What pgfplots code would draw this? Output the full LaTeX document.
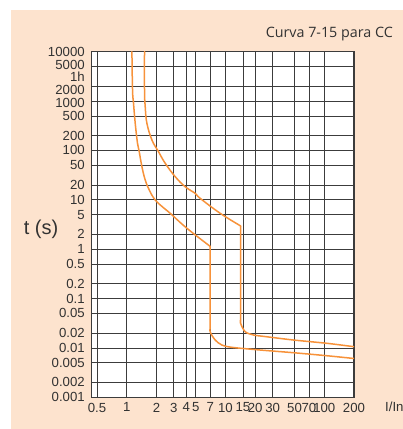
\documentclass[border=0pt]{standalone}
\usepackage{fontspec}
\setmainfont{Liberation Sans}
\newfontfamily\titlefont{Open Sans}
\usepackage{pgfplots}
\pgfplotsset{compat=1.18}
\definecolor{peach}{RGB}{253,227,206}
\definecolor{curvec}{RGB}{247,146,58}
\definecolor{gridc}{RGB}{60,60,60}
\definecolor{txt}{RGB}{50,50,50}
\newcommand{\lbl}[2]{\raisebox{#1}[9.3pt][0pt]{#2}}
\begin{document}
\begin{tikzpicture}
\fill[white] (0,0) rectangle (403pt,429pt);
\fill[peach] (11pt,0) rectangle (403pt,419pt);
\begin{axis}[
  at={(91.7pt,31.7pt)}, anchor=south west,
  scale only axis, width=262.3pt, height=345.6pt,
  xmode=log, ymode=log,
  xmin=0.442, xmax=200, ymin=0.001, ymax=10000,
  axis background/.style={fill=white},
  xtick={0.5,1,2,3,4,5,7,10,15,20,30,50,70,100,200},
  xticklabels={0.5,1,2,3,4,5,7,10,15,20,30,50,70,100,200},
  ytick={0.001,0.002,0.005,0.01,0.02,0.05,0.1,0.2,0.5,1,2,5,10,20,50,100,200,500,1000,2000,5000,10000},
  yticklabels={0.001,0.002,0.005,0.01,0.02,0.05,0.1,0.2,0.5,1,2,5,10,20,50,100,200,500,\lbl{-2pt}{1000},\lbl{-3.5pt}{2000},\lbl{2pt}{5000},10000},
  extra y ticks={3600}, extra y tick labels={\lbl{-3.6pt}{1h}}, extra y tick style={grid=none},
  minor tick num=0,
  grid=major,
  major grid style={draw=gridc, line width=0.75pt},
  axis line style={draw=gridc, line width=1.1pt},
  major tick length=0pt, minor tick length=0pt,
  tick label style={font=\fontsize{13.2}{13.2}\selectfont, text=txt},
  yticklabel style={inner sep=0.8pt, xshift=-6pt},
  xticklabel style={yshift=-2pt},
  /pgf/number format/assume math mode=true,
]
\addplot[curvec, line width=1.5pt, smooth, tension=0.65, line cap=round] coordinates {(1.129,10000)(1.145,1676)(1.172,901)(1.219,355)(1.286,139.5)(1.338,94.3)(1.425,46.9)(1.539,25.2)(1.709,15.1)(1.943,9.9)(2.342,6.98)(2.756,5.33)(4.068,2.65)(7,1.14)};
\addplot[curvec, line width=1.5pt, smooth, tension=0.5, line cap=round] coordinates {(7,1.14)(7,0.0335)(7,0.0213)(7.87,0.01446)(9.19,0.01146)(11.61,0.01028)(22.45,0.00907)(48.8,0.0080)(106.2,0.00695)(200,0.00611)};
\addplot[curvec, line width=1.5pt, smooth, tension=0.65, line cap=round] coordinates {(1.514,10000)(1.514,1676)(1.539,769)(1.601,355)(1.799,163)(2.098,94.3)(2.453,54.9)(3.097,29.4)(3.909,18.4)(4.935,13.5)(5.546,10.7)(8.84,5.33)(14.25,2.95)};
\addplot[curvec, line width=1.5pt, smooth, tension=0.5, line cap=round] coordinates {(14.25,2.95)(14.25,0.0464)(14.25,0.0315)(15.83,0.0213)(19.2,0.01828)(25.2,0.0170)(48.8,0.01446)(106.2,0.01241)(200,0.01059)};
\end{axis}
\node[anchor=east, font=\titlefont\fontsize{14.3}{14.3}\selectfont, text=txt, inner sep=0pt] at (393pt,395pt) {Curva 7-15 para CC};
\node[font=\fontsize{20}{20}\selectfont, text=txt, inner sep=0pt] at (41pt,200pt) {t (s)};
\node[anchor=west, font=\fontsize{13.2}{13.2}\selectfont, text=txt, inner sep=0pt] at (385pt,22.3pt) {I/In};
\pgfresetboundingbox
\useasboundingbox (0,0) rectangle (403pt,429pt);
\end{tikzpicture}
\end{document}
